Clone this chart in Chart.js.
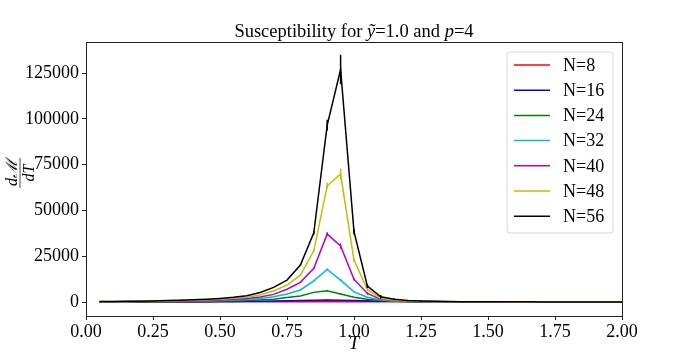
<!DOCTYPE html>
<html>
<head>
<meta charset="utf-8">
<script src="https://cdn.jsdelivr.net/npm/chart.js@4.4.0/dist/chart.umd.min.js"></script>
<style>
  html, body { margin: 0; padding: 0; background: #fff; }
  canvas { display: block; }
</style>
</head>
<body>
<canvas id="myChart" width="692" height="355"></canvas>
<script>
// temperatures T = 0.05 ... 2.00
const temps = [0.05, 0.10, 0.15, 0.20, 0.25, 0.30, 0.35, 0.40, 0.45, 0.50,
  0.55, 0.60, 0.65, 0.70, 0.75, 0.80, 0.85, 0.90, 0.95, 1.00,
  1.05, 1.10, 1.15, 1.20, 1.25, 1.30, 1.35, 1.40, 1.45, 1.50,
  1.55, 1.60, 1.65, 1.70, 1.75, 1.80, 1.85, 1.90, 1.95, 2.00]

const seriesLabels = ['N=8', 'N=16', 'N=24', 'N=32', 'N=40', 'N=48', 'N=56']
const seriesColors = ['#ff0000', '#0000ff', '#008000', '#00bfbf', '#bf00bf', '#bfbf00', '#000000']

const n8 = [30, 35, 40, 47, 55, 64, 74, 86, 100, 115, 132, 150, 168, 185, 200, 215, 228, 238, 244, 246,
  244, 238, 228, 215, 200, 185, 170, 155, 140, 127, 115, 104, 94, 85, 77, 70, 64, 58, 53, 48]
const n16 = [60, 70, 85, 100, 120, 140, 165, 195, 230, 280, 340, 410, 500, 610, 740, 880, 1000, 1100, 1000, 850,
  680, 520, 390, 290, 220, 170, 135, 110, 90, 76, 65, 56, 49, 43, 38, 34, 31, 28, 25, 23]
const n24 = [100, 120, 140, 170, 200, 240, 290, 350, 430, 530, 670, 850, 1150, 1600, 2500, 3300, 5300, 6200, 4400, 2600,
  1500, 800, 480, 320, 230, 175, 140, 115, 97, 83, 72, 63, 56, 50, 45, 41, 37, 34, 31, 29]
const n32 = [150, 180, 215, 260, 310, 375, 460, 560, 700, 870, 1100, 1450, 2000, 2900, 4400, 6600, 11600, 17800, 12000, 5600,
  2600, 1100, 600, 400, 290, 220, 180, 150, 125, 108, 95, 83, 74, 66, 59, 53, 48, 44, 40, 37]
const n40 = [200, 240, 290, 350, 420, 510, 630, 780, 960, 1200, 1550, 2000, 2800, 4200, 7000, 10800, 18400, 37100, 30600, 12400,
  4700, 1500, 800, 500, 350, 270, 215, 180, 150, 130, 112, 98, 87, 78, 70, 63, 57, 52, 47, 43]
const n48 = [250, 300, 360, 440, 540, 660, 820, 1000, 1250, 1600, 2050, 2700, 3900, 6000, 9300, 14700, 28000, 63500, 69900, 22900,
  6900, 2000, 1000, 600, 420, 320, 250, 200, 170, 145, 125, 110, 98, 88, 79, 71, 64, 58, 53, 48]
const n56 = [300, 350, 430, 520, 650, 800, 1000, 1250, 1550, 2000, 2600, 3500, 5200, 8000, 12000, 20200, 37800, 96600, 127000, 38400,
  8700, 2900, 1500, 850, 550, 400, 300, 240, 200, 170, 150, 130, 115, 100, 90, 80, 72, 65, 58, 52]

// error bar half-widths
const e8 = [0, 0, 0, 0, 0, 0, 0, 0, 0, 0, 0, 0, 0, 0, 0, 0, 0, 0, 0, 0,
  0, 0, 0, 0, 0, 0, 0, 0, 0, 0, 0, 0, 0, 0, 0, 0, 0, 0, 0, 0]
const e16 = [0, 0, 0, 0, 0, 0, 0, 0, 0, 0, 0, 0, 0, 0, 0, 0, 0, 100, 100, 0,
  0, 0, 0, 0, 0, 0, 0, 0, 0, 0, 0, 0, 0, 0, 0, 0, 0, 0, 0, 0]
const e24 = [0, 0, 0, 0, 0, 0, 0, 0, 0, 0, 0, 0, 0, 0, 0, 0, 200, 300, 300, 200,
  0, 0, 0, 0, 0, 0, 0, 0, 0, 0, 0, 0, 0, 0, 0, 0, 0, 0, 0, 0]
const e32 = [0, 0, 0, 0, 0, 0, 0, 0, 0, 0, 0, 0, 0, 0, 0, 200, 300, 600, 500, 300,
  200, 0, 0, 0, 0, 0, 0, 0, 0, 0, 0, 0, 0, 0, 0, 0, 0, 0, 0, 0]
const e40 = [0, 0, 0, 0, 0, 0, 0, 0, 0, 0, 0, 0, 0, 0, 0, 300, 500, 1000, 1500, 600,
  700, 300, 0, 0, 0, 0, 0, 0, 0, 0, 0, 0, 0, 0, 0, 0, 0, 0, 0, 0]
const e48 = [0, 0, 0, 0, 0, 0, 0, 0, 0, 0, 0, 0, 0, 0, 0, 400, 700, 1500, 3000, 1000,
  800, 400, 0, 0, 0, 0, 0, 0, 0, 0, 0, 0, 0, 0, 0, 0, 0, 0, 0, 0]
const e56 = [0, 0, 0, 0, 0, 0, 0, 0, 0, 0, 0, 0, 0, 0, 0, 500, 1000, 3000, 8000, 1500,
  1000, 900, 600, 400, 300, 250, 200, 0, 0, 0, 0, 0, 0, 0, 0, 0, 0, 0, 0, 0]

const xTicks = [0, 0.25, 0.5, 0.75, 1.0, 1.25, 1.5, 1.75, 2.0]
const yTicks = [0, 25000, 50000, 75000, 100000, 125000]

const allValues = [n8, n16, n24, n32, n40, n48, n56]
const allErrors = [e8, e16, e24, e32, e40, e48, e56]

const SERIF = '"Liberation Serif", "DejaVu Serif", serif'

const datasets = allValues.map(function (vals, i) {
  return {
    label: seriesLabels[i],
    data: temps.map(function (t, j) { return { x: t, y: vals[j] } }),
    errors: allErrors[i],
    borderColor: seriesColors[i],
    backgroundColor: seriesColors[i],
    borderWidth: 1.5,
    pointRadius: 0,
    tension: 0,
    order: 6 - i
  }
})

// vertical error bars, drawn with each line
const errorBars = {
  id: 'errorBars',
  afterDatasetDraw(chart, args) {
    const ds = chart.data.datasets[args.index]
    const yScale = chart.scales.y
    const ctx = chart.ctx
    ctx.save()
    ctx.strokeStyle = ds.borderColor
    ctx.lineWidth = 1.5
    args.meta.data.forEach(function (pt, j) {
      const e = ds.errors[j]
      if (!e) return
      const v = ds.data[j].y
      ctx.beginPath()
      ctx.moveTo(pt.x, yScale.getPixelForValue(v - e))
      ctx.lineTo(pt.x, yScale.getPixelForValue(v + e))
      ctx.stroke()
    })
    ctx.restore()
  }
}

// frame, title, y label and legend like matplotlib
const decorations = {
  id: 'decorations',
  afterDraw(chart) {
    const ctx = chart.ctx
    const a = chart.chartArea
    ctx.save()
    ctx.strokeStyle = '#222'
    ctx.lineWidth = 1
    ctx.strokeRect(Math.round(a.left) + 0.5, Math.round(a.top) + 0.5,
      Math.round(a.right - a.left), Math.round(a.bottom - a.top))

    // title with italic pieces
    const parts = [
      ['Susceptibility for ', false], ['ỹ', true], ['=1.0 and ', false], ['p', true], ['=4', false]
    ]
    ctx.fillStyle = '#000'
    ctx.textBaseline = 'alphabetic'
    let total = 0
    parts.forEach(function (p) {
      ctx.font = (p[1] ? 'italic ' : '') + '18.5px ' + SERIF
      total += ctx.measureText(p[0]).width
    })
    let x = (a.left + a.right) / 2 - total / 2
    parts.forEach(function (p) {
      ctx.font = (p[1] ? 'italic ' : '') + '18.5px ' + SERIF
      ctx.textAlign = 'left'
      ctx.fillText(p[0], x, 37)
      x += ctx.measureText(p[0]).width
    })

    // y label as fraction dM/dT
    ctx.save()
    ctx.translate(20, (a.top + a.bottom) / 2 - 6)
    ctx.rotate(-Math.PI / 2)
    ctx.font = 'italic 16px ' + SERIF
    ctx.textAlign = 'center'
    ctx.textBaseline = 'alphabetic'
    ctx.fillText('dℳ', 0, -3)
    ctx.textBaseline = 'top'
    ctx.fillText('dT', 0, 2)
    ctx.beginPath()
    ctx.lineWidth = 0.8
    ctx.moveTo(-15, 0)
    ctx.lineTo(15, 0)
    ctx.stroke()
    ctx.restore()

    // legend
    const bx = 507, by = 52, bw = 106, bh = 181, r = 3
    ctx.beginPath()
    ctx.moveTo(bx + r, by)
    ctx.arcTo(bx + bw, by, bx + bw, by + bh, r)
    ctx.arcTo(bx + bw, by + bh, bx, by + bh, r)
    ctx.arcTo(bx, by + bh, bx, by, r)
    ctx.arcTo(bx, by, bx + bw, by, r)
    ctx.closePath()
    ctx.fillStyle = 'rgba(255,255,255,0.8)'
    ctx.fill()
    ctx.strokeStyle = '#d6d6d6'
    ctx.lineWidth = 1
    ctx.stroke()
    chart.data.datasets.forEach(function (ds, i) {
      const ly = 65 + i * 25.2
      ctx.beginPath()
      ctx.strokeStyle = ds.borderColor
      ctx.lineWidth = 1.5
      ctx.moveTo(514, ly)
      ctx.lineTo(550, ly)
      ctx.stroke()
      ctx.fillStyle = '#000'
      ctx.font = '18px ' + SERIF
      ctx.textAlign = 'left'
      ctx.textBaseline = 'middle'
      ctx.fillText(ds.label, 563, ly + 1)
    })
    ctx.restore()
  }
}

new Chart(document.getElementById('myChart').getContext('2d'), {
  type: 'line',
  data: { datasets: datasets },
  plugins: [errorBars, decorations],
  options: {
    responsive: false,
    animation: false,
    devicePixelRatio: 1,
    layout: { padding: { left: 0, right: 70, top: 42, bottom: 0 } },
    plugins: {
      legend: { display: false },
      tooltip: { enabled: false },
      title: { display: false }
    },
    scales: {
      x: {
        type: 'linear',
        min: 0,
        max: 2,
        afterBuildTicks(scale) { scale.ticks = xTicks.map(function (v) { return { value: v } }) },
        afterFit(scale) { scale.height = 39 },
        ticks: {
          color: '#000',
          padding: 1,
          maxRotation: 0,
          font: { family: SERIF, size: 18 },
          callback: function (v) { return Number(v).toFixed(2) }
        },
        grid: { drawOnChartArea: false, drawTicks: true, tickLength: 4, color: '#222' },
        border: { display: false },
        title: {
          display: true,
          text: 'T',
          color: '#000',
          font: { family: SERIF, size: 19, style: 'italic' },
          padding: { top: -5, bottom: 0 }
        }
      },
      y: {
        type: 'linear',
        min: -7600,
        max: 142000,
        afterBuildTicks(scale) { scale.ticks = yTicks.map(function (v) { return { value: v } }) },
        afterFit(scale) { scale.width = 86 },
        ticks: {
          color: '#000',
          padding: 3,
          font: { family: SERIF, size: 18 },
          callback: function (v) { return String(v) }
        },
        grid: { drawOnChartArea: false, drawTicks: true, tickLength: 4, color: '#222' },
        border: { display: false }
      }
    }
  }
})
</script>
</body>
</html>
